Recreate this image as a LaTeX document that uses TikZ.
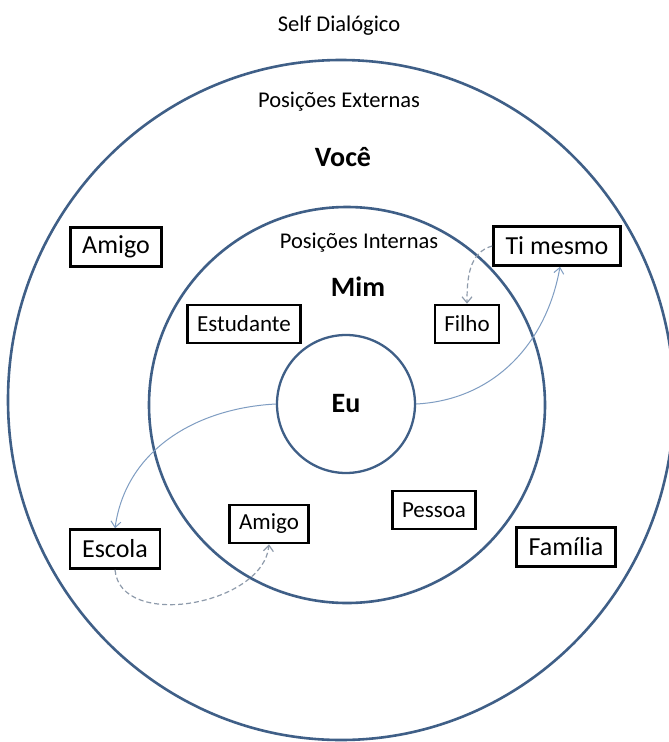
\documentclass[tikz,border=0pt]{standalone}
\usepackage{fontspec}
\setmainfont{Carlito}
\usetikzlibrary{arrows.meta}

\definecolor{ringblue}{HTML}{3F5F87}
\definecolor{linkblue}{HTML}{7F9DC2}
\definecolor{dashgray}{HTML}{8E9BAB}

\tikzset{
  ring/.style={draw=ringblue,line width=2.6pt},
  posbox/.style={draw=black,line width=2.6pt,fill=white,inner xsep=12pt,minimum height=39pt,font=\fontsize{26}{30}\selectfont},
  inbox/.style={posbox,inner xsep=9.5pt,minimum height=38pt,font=\fontsize{23}{27}\selectfont},
  title/.style={font=\fontsize{22.5}{26}\selectfont},
  self/.style={font=\bfseries\fontsize{28}{32}\selectfont},
  link/.style={draw=linkblue,line width=1pt,-{Straight Barb[length=6pt,width=10pt]}},
  dlink/.style={draw=dashgray,line width=1.2pt,dash pattern=on 5pt off 3pt,-{Straight Barb[length=6pt,width=10pt]}}
}

\begin{document}
\begin{tikzpicture}[x=1pt,y=-1pt]
  \useasboundingbox (0,0) rectangle (669,742);
  \clip (0,0) rectangle (669,742);
  \fill[white] (0,0) rectangle (669,742);

  % rings
  \draw[ring] (341,400) ellipse[x radius=333,y radius=340];
  \draw[ring] (347,405) circle[radius=198];
  \node[ring,line width=2.3pt,circle,minimum size=138pt] (eu) at (346,404) {};

  % titles
  \node[title]  (dialogico) at (339,26)  {Self Dialógico};
  \node[title]  (externas)  at (339,102) {Posições Externas};
  \node[self]   (voce)      at (343,157) {Você};
  \node[title]  (internas)  at (359,243) {Posições Internas};
  \node[self]   (mim)       at (358,287) {Mim};
  \node[self]   (eutxt)     at (346,404) {Eu};

  % positions
  \node[posbox] (amigoext)  at (116,247) {Amigo};
  \node[posbox] (timesmo)   at (557,246) {Ti mesmo};
  \node[posbox] (escola)    at (115,549) {Escola};
  \node[posbox] (familia)   at (566,547) {Família};
  \node[inbox]  (estudante) at (244,324) {Estudante};
  \node[inbox]  (filho)     at (467,324) {Filho};
  \node[inbox]  (amigoint)  at (269,524) {Amigo};
  \node[inbox]  (pessoa)    at (434,510) {Pessoa};

  % links
  \draw[link]  (eu.west)  to[out=183,in=82] (escola.north);
  \draw[link]  (eu.east)  to[out=3,in=-100] ([xshift=3pt]timesmo.south);
  \draw[dlink] (timesmo.west) to[out=195,in=90] (filho.north);
  \draw[dlink] (escola.south) to[out=-85,in=-95] (amigoint.south);
\end{tikzpicture}
\end{document}
